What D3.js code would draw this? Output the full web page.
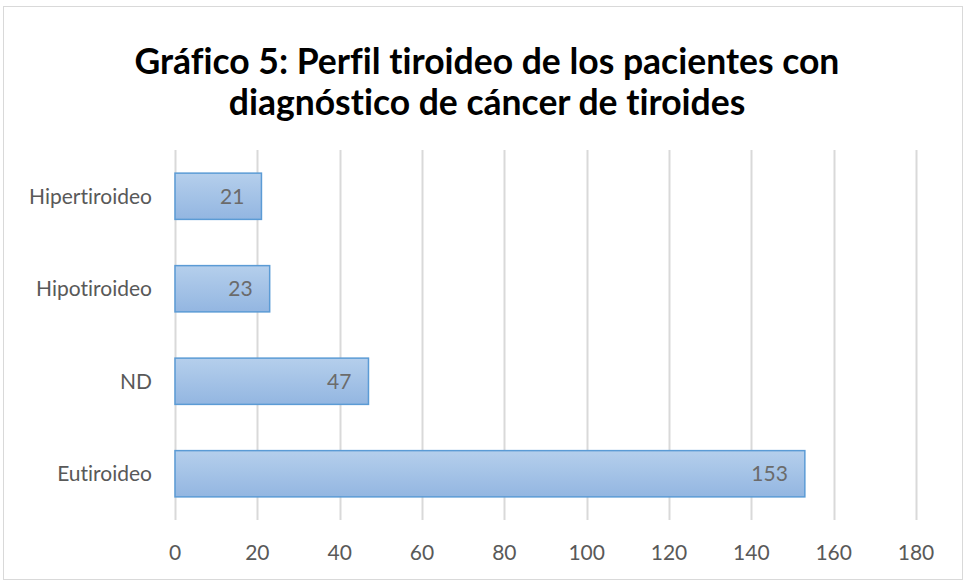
<!DOCTYPE html>
<html>
<head>
<meta charset="UTF-8">
<script src="https://d3js.org/d3.v7.min.js"></script>
<style>
  body { margin: 0; background: #fff; }
  svg { display: block; font-family: Lato, "Open Sans", sans-serif; font-variant-ligatures: none; }
</style>
</head>
<body>
<svg></svg>
<script>
const categories = ["Hipertiroideo", "Hipotiroideo", "ND", "Eutiroideo"];
const values = [21, 23, 47, 153];
const ticks = [0, 20, 40, 60, 80, 100, 120, 140, 160, 180];
const titleLines = ["Gráfico 5: Perfil tiroideo de los pacientes con", "diagnóstico de cáncer de tiroides"];

const W = 966, H = 583;
const svg = d3.select("svg").attr("width", W).attr("height", H);

// gradient for bars
const grad = svg.append("defs").append("linearGradient")
  .attr("id", "barGrad").attr("x1", 0).attr("y1", 0).attr("x2", 0).attr("y2", 1);
grad.append("stop").attr("offset", "0%").attr("stop-color", "#b5cfec");
grad.append("stop").attr("offset", "100%").attr("stop-color", "#93b6e1");

// chart frame
svg.append("rect")
  .attr("x", 3.5).attr("y", 6.5).attr("width", 959).attr("height", 573)
  .attr("fill", "#fff").attr("stroke", "#d9d9d9").attr("stroke-width", 1);

const x = d3.scaleLinear().domain([0, 180]).range([175, 916]);
const y = d3.scaleBand().domain(categories).range([150, 520])
  .paddingInner(0.5).paddingOuter(0.25);

// gridlines
svg.append("g").selectAll("line").data(ticks).join("line")
  .attr("x1", d => Math.round(x(d)) + 0.5).attr("x2", d => Math.round(x(d)) + 0.5)
  .attr("y1", 150).attr("y2", 520)
  .attr("stroke", "#d9d9d9").attr("stroke-width", 2);

// x tick labels
svg.append("g").selectAll("text").data(ticks).join("text")
  .attr("x", d => x(d)).attr("y", 560)
  .attr("text-anchor", "middle")
  .attr("font-size", 21).attr("fill", "#595959")
  .text(d => d);

// category labels
svg.append("g").selectAll("text").data(categories).join("text")
  .attr("x", 152).attr("y", d => y(d) + y.bandwidth() / 2)
  .attr("dy", "0.35em")
  .attr("text-anchor", "end")
  .attr("font-size", 21).attr("fill", "#595959")
  .text(d => d);

// bars
svg.append("g").selectAll("rect").data(values).join("rect")
  .attr("x", x(0)).attr("y", (d, i) => y(categories[i]))
  .attr("width", d => x(d) - x(0)).attr("height", y.bandwidth())
  .attr("fill", "url(#barGrad)").attr("stroke", "#5b9bd5").attr("stroke-width", 1.5);

// value labels
svg.append("g").selectAll("text").data(values).join("text")
  .attr("x", d => x(d) - 17).attr("y", (d, i) => y(categories[i]) + y.bandwidth() / 2)
  .attr("dy", "0.35em")
  .attr("text-anchor", "end")
  .attr("font-size", 21).attr("fill", "#6b6b6b")
  .text(d => d);

// title
svg.append("g").selectAll("text").data(titleLines).join("text")
  .attr("x", 487).attr("y", (d, i) => 74 + i * 41)
  .attr("text-anchor", "middle")
  .attr("font-size", 35.5).attr("font-weight", "bold").attr("fill", "#000")
  .text(d => d);
</script>
</body>
</html>
